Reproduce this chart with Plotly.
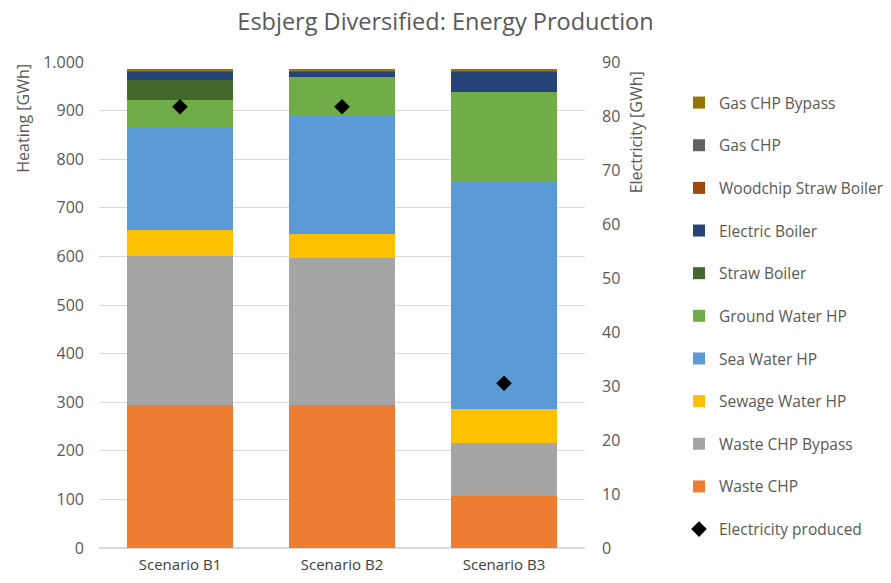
import plotly.graph_objects as go

scenarios = ["Scenario B1", "Scenario B2", "Scenario B3"]

series_names = ["Waste CHP", "Waste CHP Bypass", "Sewage Water HP", "Sea Water HP",
                "Ground Water HP", "Straw Boiler", "Electric Boiler",
                "Woodchip Straw Boiler", "Gas CHP", "Gas CHP Bypass"]
waste_chp = [294, 294, 108]
waste_chp_bypass = [307, 303, 109]
sewage_water_hp = [53, 49, 70]
sea_water_hp = [212, 244, 468]
ground_water_hp = [56, 80, 183]
straw_boiler = [42, 0, 0]
electric_boiler = [17, 11, 43]
woodchip_straw_boiler = [1, 1, 0.5]
gas_chp = [0.5, 0.5, 0.5]
gas_chp_bypass = [2, 2, 2]
electricity_produced = [81.7, 81.7, 30.5]

series_values = [waste_chp, waste_chp_bypass, sewage_water_hp, sea_water_hp,
                 ground_water_hp, straw_boiler, electric_boiler,
                 woodchip_straw_boiler, gas_chp, gas_chp_bypass]
colors = ["#ED7D31", "#A5A5A5", "#FFC000", "#5B9BD5", "#70AD47", "#43682B",
          "#264478", "#9E480E", "#636363", "#997300"]

FONT = "Open Sans, Segoe UI, sans-serif"
GREY = "#595959"

fig = go.Figure()
n = len(series_names)
for i, (name, vals, col) in enumerate(zip(series_names, series_values, colors)):
    fig.add_trace(go.Bar(
        x=scenarios, y=vals, name=name, marker=dict(color=col, line=dict(width=0)),
        legendrank=n - i, legendgroup=name, width=0.65,
    ))
fig.add_trace(go.Scatter(
    x=scenarios, y=electricity_produced, name="Electricity produced", mode="markers",
    marker=dict(symbol="diamond", size=12, color="black"), yaxis="y2",
    legendrank=n + 1, legendgroup="elec",
))

fig.update_layout(
    width=891, height=583,
    barmode="stack", bargap=0.35,
    separators=",.",
    paper_bgcolor="white", plot_bgcolor="white",
    font=dict(family=FONT, color=GREY, size=15),
    title=dict(text="Esbjerg Diversified: Energy Production", x=0.5, xanchor="center",
               xref="container", y=1 - 22 / 583, yanchor="middle",
               font=dict(size=23.5, color=GREY, family=FONT)),
    margin=dict(l=99, r=306, t=62, b=35),
    xaxis=dict(showgrid=False, showline=False, ticks="", ticklabelstandoff=6,
               automargin=False, tickfont=dict(size=15, color="#404040")),
    yaxis=dict(range=[0, 1000], dtick=100, tickformat=",d", showgrid=True,
               gridcolor="#D9D9D9", gridwidth=1, zeroline=True, zerolinecolor="#D9D9D9",
               showline=False, ticks="", ticklabelstandoff=14, automargin=False,
               tickfont=dict(size=16, color=GREY)),
    yaxis2=dict(range=[0, 90], dtick=10, overlaying="y", side="right", showgrid=False,
                zeroline=False, showline=False, ticks="", ticklabelstandoff=16,
                automargin=False, tickfont=dict(size=16, color=GREY)),
    legend=dict(xref="container", yref="container", x=679 / 891, y=1 - 86 / 583,
                xanchor="left", yanchor="top", traceorder="grouped", maxheight=560,
                tracegroupgap=19.5, font=dict(size=15.5, color=GREY), itemwidth=30),
    showlegend=True,
)
fig.add_annotation(text="Heating [GWh]", xref="paper", yref="paper", x=-0.158, y=1.0,
                   textangle=-90, showarrow=False, xanchor="center", yanchor="top",
                   font=dict(size=16, color=GREY))
fig.add_annotation(text="Electricity [GWh]", xref="paper", yref="paper", x=1.105, y=0.985,
                   textangle=-90, showarrow=False, xanchor="center", yanchor="top",
                   font=dict(size=16, color=GREY))

fig.write_html("out.html")
